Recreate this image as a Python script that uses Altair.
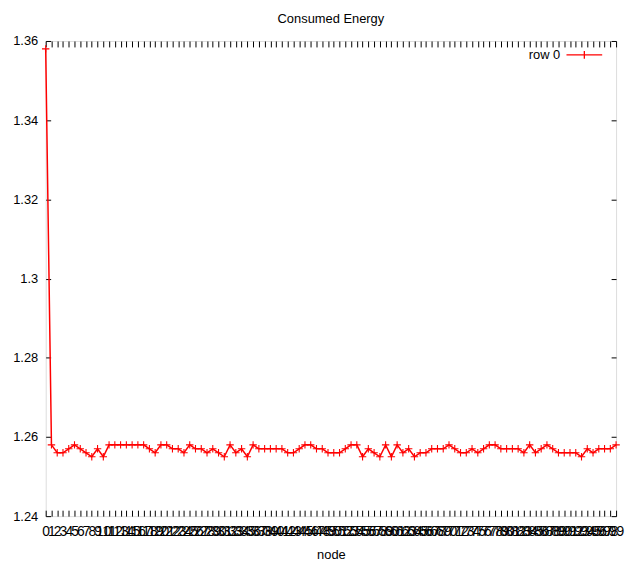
import altair as alt
import pandas as pd

nodes = list(range(100))
energy = [
    1.358, 1.258, 1.256, 1.256, 1.257, 1.258, 1.257, 1.256, 1.255, 1.257,
    1.255, 1.258, 1.258, 1.258, 1.258, 1.258, 1.258, 1.258, 1.257, 1.256,
    1.258, 1.258, 1.257, 1.257, 1.256, 1.258, 1.257, 1.257, 1.256, 1.257,
    1.256, 1.255, 1.258, 1.256, 1.257, 1.255, 1.258, 1.257, 1.257, 1.257,
    1.257, 1.257, 1.256, 1.256, 1.257, 1.258, 1.258, 1.257, 1.257, 1.256,
    1.256, 1.256, 1.257, 1.258, 1.258, 1.255, 1.257, 1.256, 1.255, 1.258,
    1.255, 1.258, 1.256, 1.257, 1.255, 1.256, 1.256, 1.257, 1.257, 1.257,
    1.258, 1.257, 1.256, 1.256, 1.257, 1.256, 1.257, 1.258, 1.258, 1.257,
    1.257, 1.257, 1.257, 1.256, 1.258, 1.256, 1.257, 1.258, 1.257, 1.256,
    1.256, 1.256, 1.256, 1.255, 1.257, 1.256, 1.257, 1.257, 1.257, 1.258,
]
series = ["row 0"] * len(nodes)
y_ticks = [1.24, 1.26, 1.28, 1.30, 1.32, 1.34, 1.36]

df = pd.DataFrame({"node": nodes, "energy": energy, "series": series})

FONT = "Liberation Sans Narrow, Liberation Sans, Arial"
RED = "#ff0000"
TICK = 6

x_scale = alt.Scale(domain=[0, 99], nice=False, zero=False)
y_scale = alt.Scale(domain=[1.24, 1.36], nice=False, zero=False)

x_bottom = alt.Axis(orient="bottom", values=nodes, format="d", labelOverlap=False,
                    labelFlush=False, domain=False, grid=False, tickSize=TICK,
                    offset=-TICK, labelPadding=9, labelFontSize=14, labelFont=FONT,
                    labelColor="black", tickColor="black", title="node",
                    titleFont=FONT, titleFontSize=13, titleFontWeight="normal",
                    titleColor="black", titlePadding=10)
y_left = alt.Axis(orient="left", values=y_ticks, format=".2~f", domain=False, grid=False,
                  tickSize=TICK - 1, offset=-(TICK - 1), labelPadding=8, labelFontSize=13,
                  labelFont=FONT, labelColor="black", tickColor="black", title=None,
                  labelFlush=False)
x_top = alt.Axis(orient="top", values=nodes, labels=False, domain=False, grid=False,
                 tickSize=TICK, offset=-TICK, tickColor="black", title=None)
y_right = alt.Axis(orient="right", values=y_ticks, labels=False, domain=False, grid=False,
                   tickSize=TICK - 1, offset=-(TICK - 1), tickColor="black", title=None)

color = alt.Color(
    "series:N",
    scale=alt.Scale(domain=["row 0"], range=[RED]),
    legend=alt.Legend(
        orient="none", legendX=487, legendY=-5, title="row 0", titleOrient="left",
        titleBaseline="top", titleAnchor="middle",
        titleFont=FONT, titleFontSize=13, titleFontWeight="normal", titleColor="black",
        titlePadding=5, labelExpr="''", labelFontSize=1,
        symbolType="M-1,0H1M0,-0.22V0.22", symbolSize=1296, symbolStrokeWidth=1.3,
        symbolFillColor="transparent", symbolStrokeColor=RED,
    ),
)

line = alt.Chart(df).mark_line(strokeWidth=1.5).encode(
    x=alt.X("node:Q", scale=x_scale, axis=x_bottom),
    y=alt.Y("energy:Q", scale=y_scale, axis=y_left),
    color=color,
)
points = alt.Chart(df).mark_point(shape="M-1,0H1M0,-1V1", size=56, filled=False,
                                  strokeWidth=1.1, opacity=1).encode(
    x=alt.X("node:Q", scale=x_scale, axis=x_top),
    y=alt.Y("energy:Q", scale=y_scale, axis=y_right),
    color=color,
)

chart = alt.layer(line, points).resolve_axis(x="independent", y="independent").properties(
    width=575, height=479,
    title=alt.TitleParams("Consumed Energy", font=FONT, fontSize=13, fontWeight="normal",
                          color="black", anchor="middle", offset=9),
    autosize=alt.AutoSizeParams(type="none"),
    padding={"left": 38, "top": 31, "right": 10, "bottom": 45},
).configure_view(stroke="black", strokeWidth=1.2).configure(background="white")

chart.save("out.html", embed_options={"renderer": "svg", "actions": False})
